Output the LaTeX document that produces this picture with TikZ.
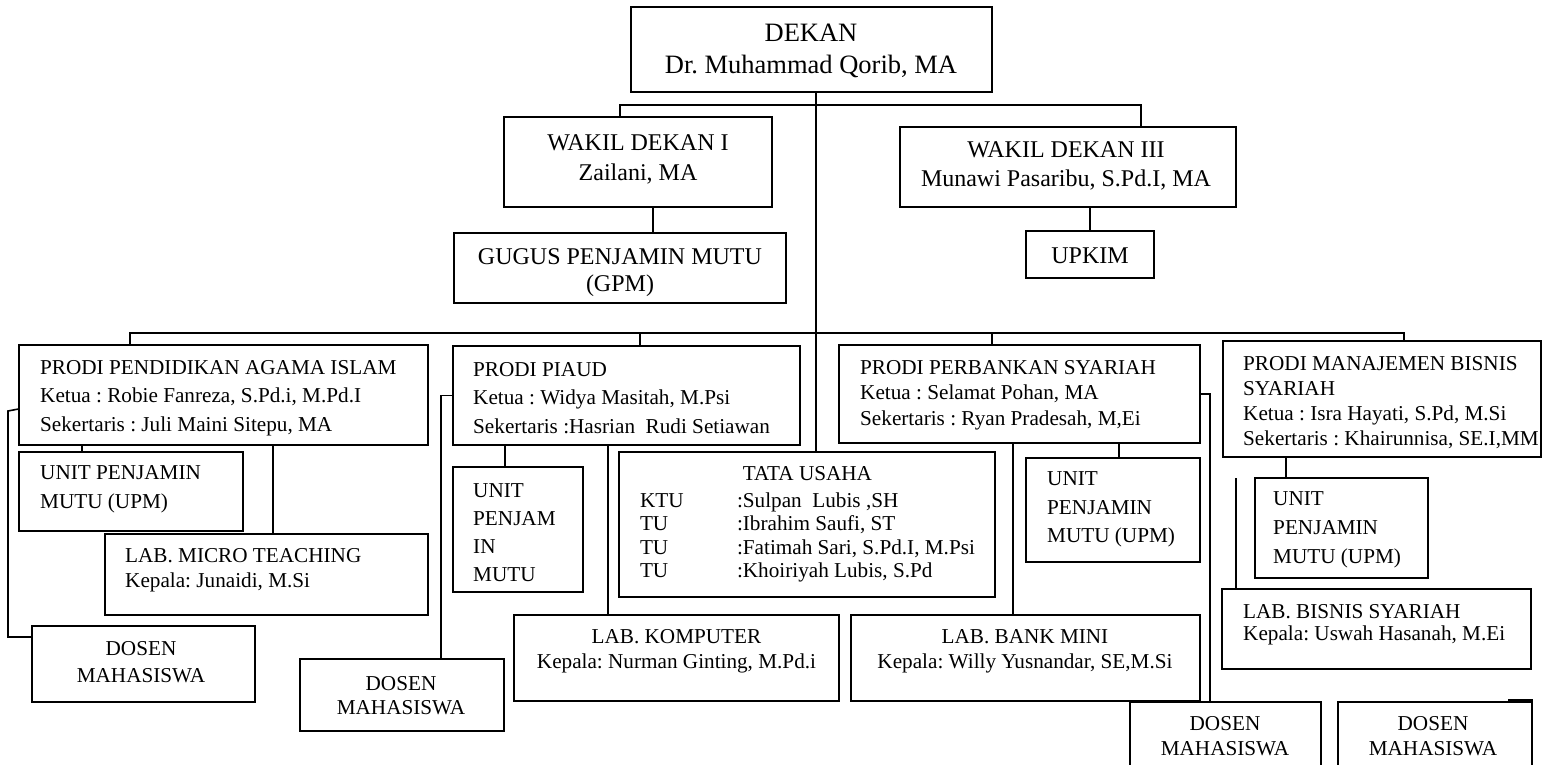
\documentclass[tikz,border=0pt]{standalone}
\usepackage{fontspec}
\setmainfont{Liberation Serif}
\newcommand{\myfs}[1]{\fontsize{21.2}{#1}\selectfont\frenchspacing}
\newcommand{\myfst}[2]{\fontsize{#1}{#2}\selectfont\frenchspacing}
\begin{document}
\begin{tikzpicture}[x=1pt,y=-1pt,
  box/.style={draw, line width=1.1pt, inner sep=0pt},
  conn/.style={line width=1.6pt},
  lt/.style={anchor=west, align=left, inner sep=0pt},
  ct/.style={align=center, inner sep=0pt}]
\clip (0,0) rectangle (1543,764);
\fill[white] (0,0) rectangle (1543,764);
% ---------- boxes ----------
\node[box, minimum width=361pt, minimum height=85pt] (dekan) at (811.5,49.5) {};
\node[box, minimum width=268pt, minimum height=90pt] (wd1) at (638,162) {};
\node[box, minimum width=336pt, minimum height=80pt] (wd3) at (1068,167) {};
\node[box, minimum width=332pt, minimum height=70pt] (gpm) at (620,268) {};
\node[box, minimum width=128pt, minimum height=47pt] (upkim) at (1090,254.5) {};
\node[box, minimum width=409pt, minimum height=100pt] (pai) at (223.5,395) {};
\node[box, minimum width=224pt, minimum height=79pt] (upm1) at (131,491.5) {};
\node[box, minimum width=323pt, minimum height=81pt] (micro) at (266.5,574.5) {};
\node[box, minimum width=223pt, minimum height=76pt] (dosen1) at (143.5,664) {};
\node[box, minimum width=347pt, minimum height=99pt] (piaud) at (626.5,395.5) {};
\node[box, minimum width=130pt, minimum height=125pt] (upm2) at (518,529.5) {};
\node[box, minimum width=204pt, minimum height=72pt] (dosen2) at (402,695) {};
\node[box, minimum width=376pt, minimum height=145pt] (tu) at (807,524.5) {};
\node[box, minimum width=325pt, minimum height=86pt] (komp) at (676.5,658) {};
\node[box, minimum width=361pt, minimum height=98pt] (perb) at (1019.5,394) {};
\node[box, minimum width=174pt, minimum height=104pt] (upm3) at (1113,510) {};
\node[box, minimum width=349pt, minimum height=86pt] (bank) at (1025.5,658) {};
\node[box, minimum width=191pt, minimum height=78pt] (dosen3) at (1225.5,741) {};
\node[box, minimum width=318pt, minimum height=116pt] (mbs) at (1382,399) {};
\node[box, minimum width=173pt, minimum height=100pt] (upm4) at (1341.5,528) {};
\node[box, minimum width=309pt, minimum height=80pt] (lbs) at (1376.5,629) {};
\node[box, minimum width=194pt, minimum height=78pt] (dosen4) at (1435,741) {};
% ---------- texts ----------
\node[ct, font=\myfst{26.5}{32}] (dekan-t) at (811,51) {DEKAN\\Dr. Muhammad Qorib, MA};
\node[ct, font=\myfst{24}{30}] (wd1-t) at (638,159) {WAKIL DEKAN I\\Zailani, MA};
\node[ct, font=\myfst{24}{29}] (wd3-t) at (1066,166) {WAKIL DEKAN III\\Munawi Pasaribu, S.Pd.I, MA};
\node[ct, font=\myfst{24}{27}] (gpm-t) at (620,273) {GUGUS PENJAMIN MUTU\\(GPM)};
\node[ct, font=\myfst{24}{27}] (upkim-t) at (1090,256) {UPKIM};
\node[lt, font=\myfs{28.5}] (pai-t) at (40,398) {PRODI PENDIDIKAN AGAMA ISLAM\\Ketua : Robie Fanreza, S.Pd.i, M.Pd.I\\Sekertaris : Juli Maini Sitepu, MA};
\node[lt, font=\myfs{29}] (upm1-t) at (40,489.5) {UNIT PENJAMIN\\MUTU (UPM)};
\node[lt, font=\myfs{25}] (micro-t) at (125,570.5) {LAB. MICRO TEACHING\\Kepala: Junaidi, M.Si};
\node[ct, font=\myfs{27}] (dosen1-t) at (141,662) {DOSEN\\MAHASISWA};
\node[lt, font=\myfs{28.5}] (piaud-t) at (473,398) {PRODI PIAUD\\Ketua : Widya Masitah, M.Psi\\Sekertaris :Hasrian~ Rudi Setiawan};
\node[lt, font=\myfs{28}] (upm2-t) at (473,532.5) {UNIT\\PENJAM\\IN\\MUTU};
\node[ct, font=\myfs{24}] (dosen2-t) at (401,695.5) {DOSEN\\MAHASISWA};
\node[inner sep=0pt, font=\myfs{23.5}] (tu-t) at (807.5,524.5) {%
  \begin{tabular}{@{}p{97pt}@{}l@{}}
  \multicolumn{2}{@{}c@{}}{TATA USAHA}\\[3.5pt]
  KTU & :Sulpan~ Lubis ,SH\\
  TU & :Ibrahim Saufi, ST\\
  TU & :Fatimah Sari, S.Pd.I, M.Psi\\
  TU & :Khoiriyah Lubis, S.Pd
  \end{tabular}};
\node[ct, font=\myfs{25}] (komp-t) at (676.5,651.5) {LAB. KOMPUTER\\Kepala: Nurman Ginting, M.Pd.i};
\node[lt, font=\myfs{25.5}] (perb-t) at (860,395) {PRODI PERBANKAN SYARIAH\\Ketua : Selamat Pohan, MA\\Sekertaris : Ryan Pradesah, M,Ei};
\node[lt, font=\myfs{28.5}] (upm3-t) at (1047,509.5) {UNIT\\PENJAMIN\\MUTU (UPM)};
\node[ct, font=\myfs{25}] (bank-t) at (1025,651.5) {LAB. BANK MINI\\Kepala: Willy Yusnandar, SE,M.Si};
\node[ct, font=\myfs{25}] (dosen3-t) at (1225,736.5) {DOSEN\\MAHASISWA};
\node[lt, font=\myfs{25}] (mbs-t) at (1243,403) {PRODI MANAJEMEN BISNIS\\SYARIAH\\Ketua : Isra Hayati, S.Pd, M.Si\\Sekertaris : Khairunnisa, SE.I,MM};
\node[lt, font=\myfs{29}] (upm4-t) at (1273,530) {UNIT\\PENJAMIN\\MUTU (UPM)};
\node[lt, font=\myfs{22}] (lbs-t) at (1243,625) {LAB. BISNIS SYARIAH\\Kepala: Uswah Hasanah, M.Ei};
\node[ct, font=\myfs{25}] (dosen4-t) at (1433,736.5) {DOSEN\\MAHASISWA};
% ---------- connectors ----------
\coordinate (mx) at (816,0);
\draw[conn] (mx |- dekan.south) -- (mx |- tu.north);
\coordinate (b1L) at (620,105); \coordinate (b1R) at (1141,105);
\draw[conn] (b1L |- wd1.north) -- (b1L) -- (b1R) -- (b1R |- wd3.north);
\coordinate (g) at (653,0);
\draw[conn] (g |- wd1.south) -- (g |- gpm.north);
\draw[conn] (wd3.south -| upkim.north) -- (upkim.north);
\coordinate (b2a) at (130,333); \coordinate (b2b) at (640,333);
\coordinate (b2c) at (992,333); \coordinate (b2d) at (1404,333);
\draw[conn] (b2a |- pai.north) -- (b2a) -- (b2d) -- (b2d |- mbs.north);
\draw[conn] (b2b) -- (b2b |- piaud.north);
\draw[conn] (b2c) -- (b2c |- perb.north);
\coordinate (u1) at (82,0);
\draw[conn] (u1 |- pai.south) -- (u1 |- upm1.north);
\coordinate (m1) at (273,0);
\draw[conn] (m1 |- pai.south) -- (m1 |- micro.north);
\coordinate (l1) at (8,411);
\draw[conn] ([yshift=-14pt]pai.west) -- (l1) |- ([yshift=27pt]dosen1.west);
\coordinate (d2) at (441,0);
\draw[conn] (piaud.west) -| (d2 |- dosen2.north);
\coordinate (u2) at (505,0);
\draw[conn] (u2 |- piaud.south) -- (u2 |- upm2.north);
\coordinate (k) at (608,0);
\draw[conn] (k |- piaud.south) -- (k |- komp.north);
\coordinate (u3) at (1119,0);
\draw[conn] (u3 |- perb.south) -- (u3 |- upm3.north);
\coordinate (bk) at (1013,0);
\draw[conn] (bk |- perb.south) -- (bk |- bank.north);
\coordinate (d3) at (1210,0);
\draw[conn] (perb.east) -| (d3 |- dosen3.north);
\coordinate (u4) at (1286,0);
\draw[conn] (u4 |- mbs.south) -- (u4 |- upm4.north);
\coordinate (f) at (1236,478);
\draw[conn] (f) -- (f |- lbs.north);
\coordinate (s) at (1508,700);
\draw[conn] (s) -- (s -| dosen4.east);
\end{tikzpicture}
\end{document}
